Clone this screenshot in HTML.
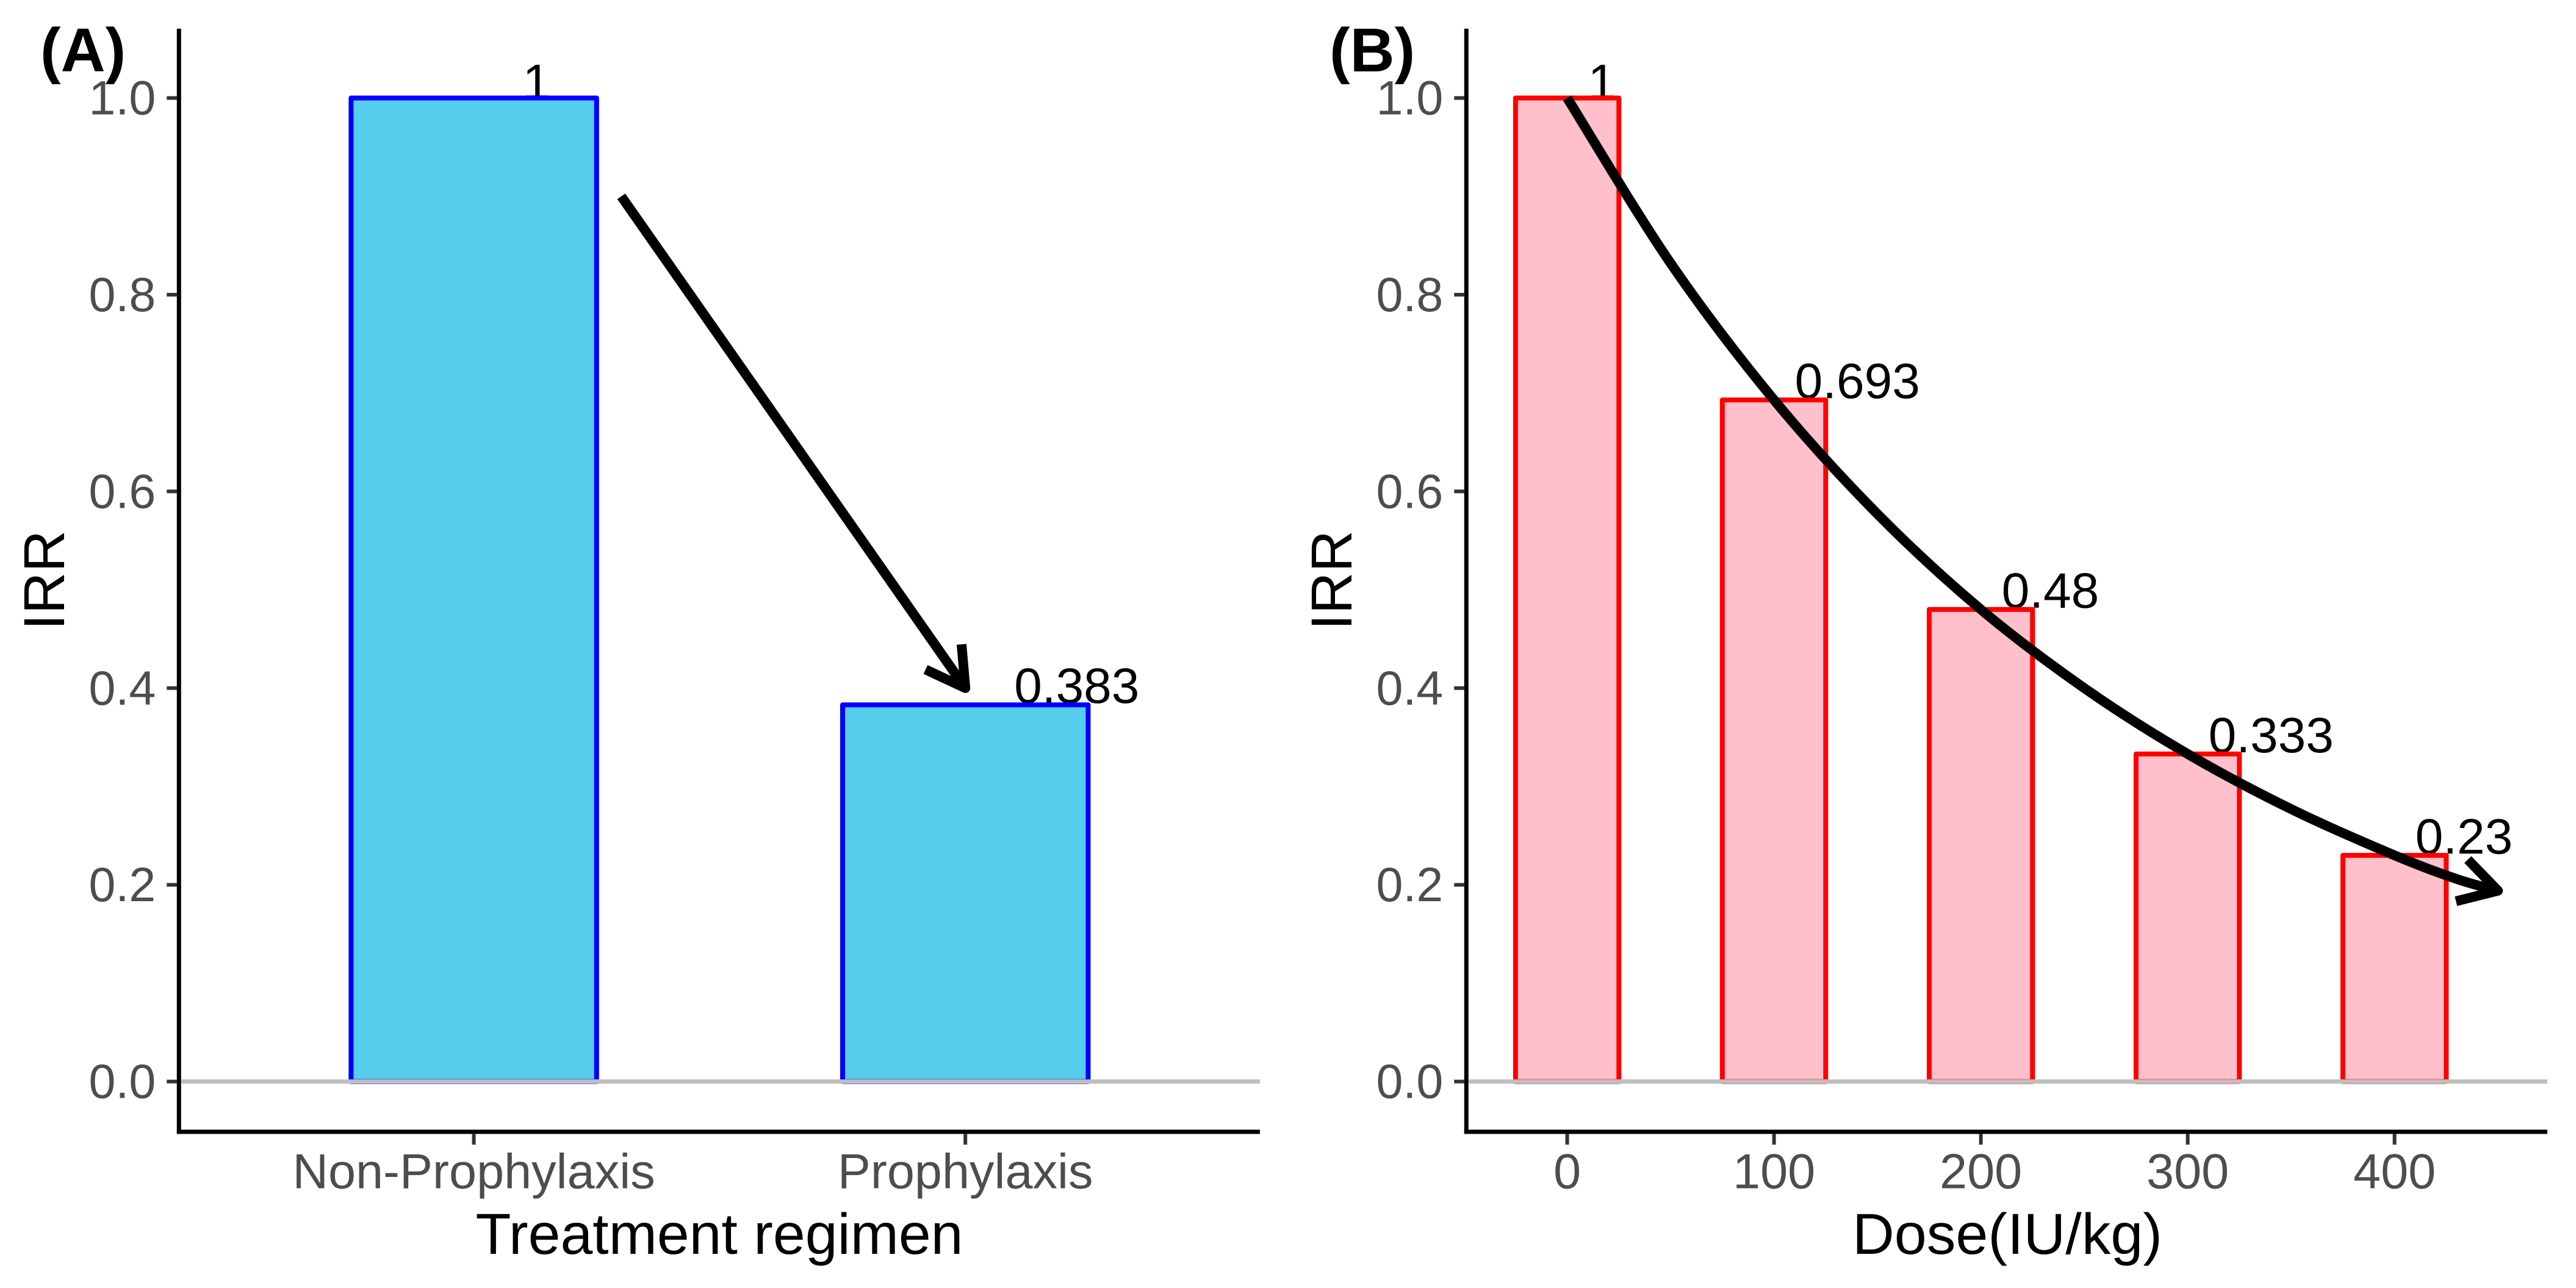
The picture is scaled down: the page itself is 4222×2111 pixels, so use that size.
<!DOCTYPE html>
<html lang="en">
<head>
<meta charset="utf-8">
<title>Incidence rate ratio by treatment regimen and dose</title>
<style>
html,body{margin:0;padding:0;background:#fff;}
svg{display:block;font-family:"Liberation Sans",Arial,sans-serif;}
</style>
</head>
<body>
<svg id="chart" xmlns="http://www.w3.org/2000/svg" width="4222" height="2111" viewBox="0 0 4222 2111">
  <rect x="0" y="0" width="4222" height="2111" fill="#ffffff"/>
  <g id="panel-a"></g>
  <g id="panel-b"></g>
  <text x="66" y="117" font-size="101" font-weight="700" fill="#000">(A)</text>
  <text x="2179" y="117" font-size="101" font-weight="700" fill="#000">(B)</text>
  <text x="1179" y="2055" font-size="95" text-anchor="middle" fill="#000">Treatment regimen</text>
  <text x="3290" y="2055" font-size="95" text-anchor="middle" textLength="508" lengthAdjust="spacingAndGlyphs" fill="#000">Dose(IU/kg)</text>
  <text transform="translate(105 951) rotate(-90)" font-size="95" text-anchor="middle" fill="#000">IRR</text>
  <text transform="translate(2215 951) rotate(-90)" font-size="95" text-anchor="middle" fill="#000">IRR</text>
</svg>
<script>
// Shared y axis
const yTickValues = [0, 0.2, 0.4, 0.6, 0.8, 1.0];
const yTickLabels = ['0.0', '0.2', '0.4', '0.6', '0.8', '1.0'];

// Panel A data
const regimenCategories = ['Non-Prophylaxis', 'Prophylaxis'];
const regimenIRR = [1, 0.383];
const regimenLabels = ['1', '0.383'];
const regimenArrowX = [0.3, 1.0];
const regimenArrowY = [0.9, 0.4];

// Panel B data
const doseValues = [0, 100, 200, 300, 400];
const doseIRR = [1, 0.693, 0.48, 0.333, 0.23];
const doseLabels = ['1', '0.693', '0.48', '0.333', '0.23'];
const doseTickLabels = ['0', '100', '200', '300', '400'];
const curveDose = [0, 50, 100, 150, 200, 250, 300, 350, 400, 430, 450];
const curveIRR = [1, 0.832, 0.693, 0.577, 0.48, 0.4, 0.333, 0.277, 0.23, 0.206, 0.194];

const NS = 'http://www.w3.org/2000/svg';
const yAxis = v => 1772.6 - 1612 * v;
const xAxisA = i => 776.6 + 805.6 * i;
const xAxisB = d => 2568.6 + 3.39 * d;

function make(parent, tag, attrs, text) {
  const el = document.createElementNS(NS, tag);
  for (const k in attrs) el.setAttribute(k, attrs[k]);
  if (text !== undefined) el.textContent = text;
  parent.appendChild(el);
  return el;
}

function arrowHead(parent, x0, y0, x1, y1, len, deg) {
  const a = Math.atan2(y0 - y1, x0 - x1);
  const r = deg * Math.PI / 180;
  const w1x = x1 + len * Math.cos(a + r), w1y = y1 + len * Math.sin(a + r);
  const w2x = x1 + len * Math.cos(a - r), w2y = y1 + len * Math.sin(a - r);
  return make(parent, 'path', {
    d: `M${w1x} ${w1y}L${x1} ${y1}L${w2x} ${w2y}`,
    fill: 'none', stroke: '#000', 'stroke-width': 16, 'stroke-linejoin': 'round'
  });
}

function drawAxes(panel, left, right) {
  const yLine = make(panel, 'line', {x1: left, y1: 47, x2: left, y2: 1858.5, stroke: '#000', 'stroke-width': 7});
  
  
  const xLine = make(panel, 'line', {x1: left - 3.5, y1: 1855, x2: right, y2: 1855, stroke: '#000', 'stroke-width': 7});
  
  
  yTickValues.forEach((v, i) => {
    const y = yAxis(v);
    const tick = make(panel, 'line', {x1: left - 20, y1: y, x2: left - 3, y2: y, stroke: '#333', 'stroke-width': 6});
    
    
    const label = make(panel, 'text', {x: left - 38, y: y + 27, 'font-size': 79, 'text-anchor': 'end', fill: '#4d4d4d'}, yTickLabels[i]);
    
    
  });
}

function drawXTick(panel, x, text) {
  const tick = make(panel, 'line', {x1: x, y1: 1858, x2: x, y2: 1876, stroke: '#333', 'stroke-width': 6});
  
  
  const label = make(panel, 'text', {x: x, y: 1947.5, 'font-size': 81, 'text-anchor': 'middle', fill: '#4d4d4d'}, text);
  
  
}

function drawBar(panel, cx, halfWidth, value, fill, stroke) {
  const top = yAxis(value), bottom = yAxis(0);
  const bar = make(panel, 'rect', {
    x: cx - halfWidth, y: top, width: halfWidth * 2, height: bottom - top,
    fill: fill, stroke: stroke, 'stroke-width': 8, 'stroke-linejoin': 'round'
  });
  
  
}

function drawBarLabel(panel, x, value, text) {
  // The digit 1 sits lower so its foot stays hidden behind the bar's top edge.
  const offset = text === '1' ? 2 : -3;
  const label = make(panel, 'text', {x: x, y: yAxis(value) + offset, 'font-size': 82, fill: '#000'}, text);
  
  
}

function drawZeroLine(panel, left, right) {
  const z = make(panel, 'line', {x1: left, y1: yAxis(0), x2: right, y2: yAxis(0), stroke: '#bebebe', 'stroke-width': 7});
  
  
}

// Panel A
const panelA = document.getElementById('panel-a');
drawAxes(panelA, 293.3, 2065);
regimenIRR.forEach((v, i) => drawBarLabel(panelA, xAxisA(i) + 80, v, regimenLabels[i]));
regimenIRR.forEach((v, i) => {
  drawBar(panelA, xAxisA(i), 201.2, v, '#56cded', '#0000ff');
  drawXTick(panelA, xAxisA(i), regimenCategories[i]);
});
drawZeroLine(panelA, 296.8, 2065);
{
  const x0 = xAxisA(regimenArrowX[0]), y0 = yAxis(regimenArrowY[0]);
  const x1 = xAxisA(regimenArrowX[1]), y1 = yAxis(regimenArrowY[1]);
  const line = make(panelA, 'line', {x1: x0, y1: y0, x2: x1, y2: y1, stroke: '#000', 'stroke-width': 16});
  
  
  const head = arrowHead(panelA, x0, y0, x1, y1, 72, 30);
  
  
}

// Panel B
const panelB = document.getElementById('panel-b');
drawAxes(panelB, 2403.3, 4175);
doseIRR.forEach((v, i) => drawBarLabel(panelB, xAxisB(doseValues[i]) + 34, v, doseLabels[i]));
doseIRR.forEach((v, i) => {
  drawBar(panelB, xAxisB(doseValues[i]), 84.7, v, '#ffc0cb', '#ff0000');
  drawXTick(panelB, xAxisB(doseValues[i]), doseTickLabels[i]);
});
drawZeroLine(panelB, 2406.8, 4175);
{
  const px = curveDose.map(xAxisB), py = curveIRR.map(yAxis);
  let d = `M${px[0]} ${py[0]}`;
  for (let i = 0; i < px.length - 1; i++) {
    const p0 = Math.max(i - 1, 0), p3 = Math.min(i + 2, px.length - 1);
    const c1x = px[i] + (px[i + 1] - px[p0]) / 6, c1y = py[i] + (py[i + 1] - py[p0]) / 6;
    const c2x = px[i + 1] - (px[p3] - px[i]) / 6, c2y = py[i + 1] - (py[p3] - py[i]) / 6;
    d += `C${c1x} ${c1y} ${c2x} ${c2y} ${px[i + 1]} ${py[i + 1]}`;
  }
  const curve = make(panelB, 'path', {d: d, fill: 'none', stroke: '#000', 'stroke-width': 16});
  
  
  const n = px.length - 1;
  const head = arrowHead(panelB, px[n - 1], py[n - 1], px[n], py[n], 71, 30);
  
  
}
</script>
</body>
</html>
